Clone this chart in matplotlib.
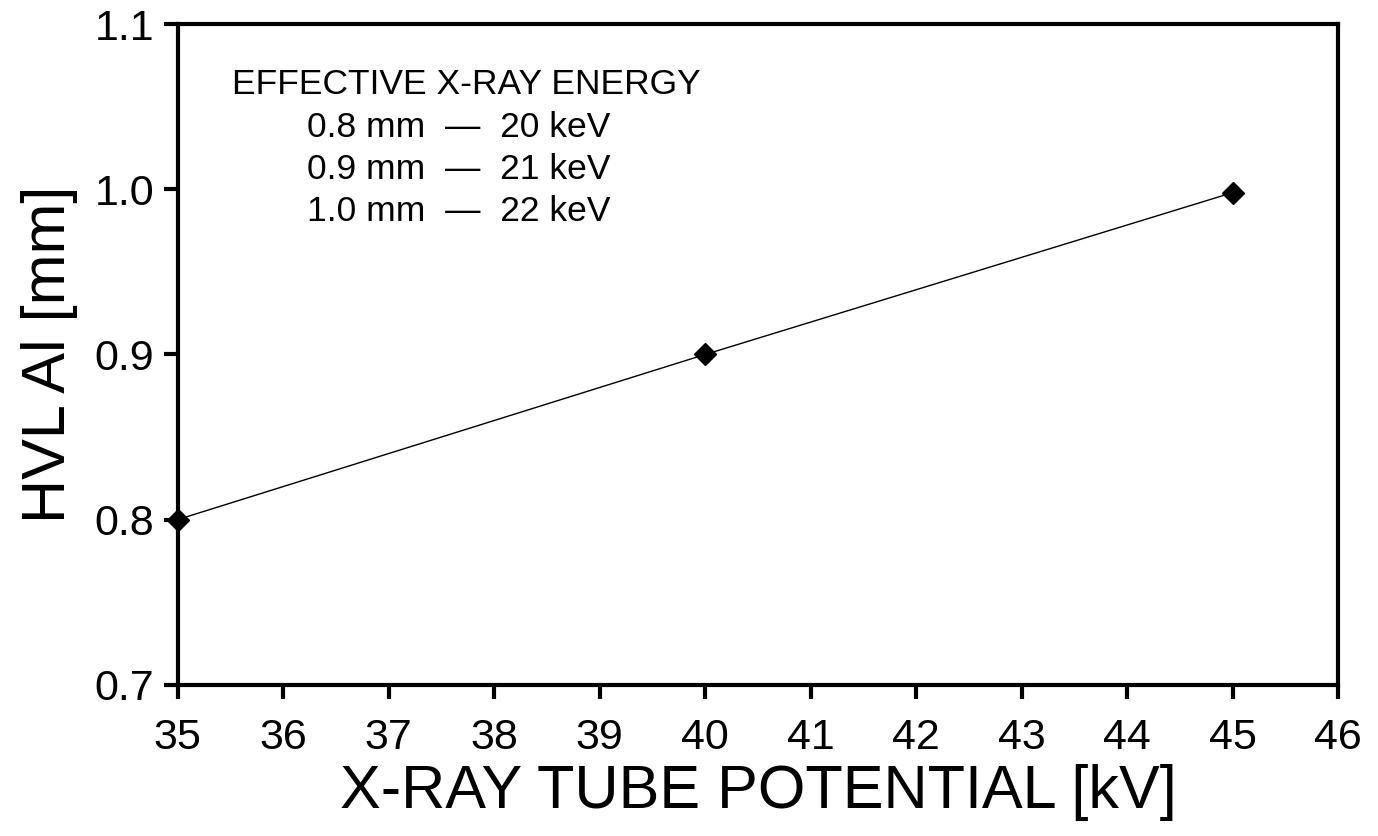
import matplotlib
matplotlib.use("Agg")
import matplotlib.pyplot as plt

# data
tube_kv = [35, 40, 45]
hvl_al = [0.80, 0.90, 0.998]
x_ticks = list(range(35, 47))
y_ticks = [0.7, 0.8, 0.9, 1.0, 1.1]
title_line = "EFFECTIVE X-RAY ENERGY"
energy_lines = ["0.8 mm  \u2014  20 keV", "0.9 mm  \u2014  21 keV", "1.0 mm  \u2014  22 keV"]

plt.rcParams["font.family"] = ["Liberation Sans", "DejaVu Sans"]

fig = plt.figure(figsize=(13.78, 8.36), dpi=100)
ax = fig.add_axes([0.129, 0.181, 0.842, 0.790])

ax.plot(tube_kv, hvl_al, color="black", lw=1.0, marker="D", markersize=11,
        markerfacecolor="black", clip_on=False, zorder=3)

ax.set_xlim(35, 46)
ax.set_ylim(0.7, 1.1)
ax.set_xticks(x_ticks)
ax.set_yticks(y_ticks)
ax.set_yticklabels([f"{v:.1f}" for v in y_ticks])

for sp in ax.spines.values():
    sp.set_linewidth(3.0)
ax.tick_params(direction="out", length=10, width=3.0, labelsize=31)
ax.tick_params(axis="x", pad=14)
ax.tick_params(axis="y", pad=7)

ax.set_xlabel("X-RAY TUBE POTENTIAL [kV]", fontsize=44, labelpad=4)
ax.set_ylabel("HVL Al [mm]", fontsize=44, labelpad=12)

ax.text(0.047, 0.909, title_line, transform=ax.transAxes, fontsize=25.5,
        va="center", ha="left")
for i, line in enumerate(energy_lines):
    ax.text(0.111, 0.843 - i * 0.063, line, transform=ax.transAxes,
            fontsize=25.5, va="center", ha="left")

fig.savefig("out.png", dpi=100)
